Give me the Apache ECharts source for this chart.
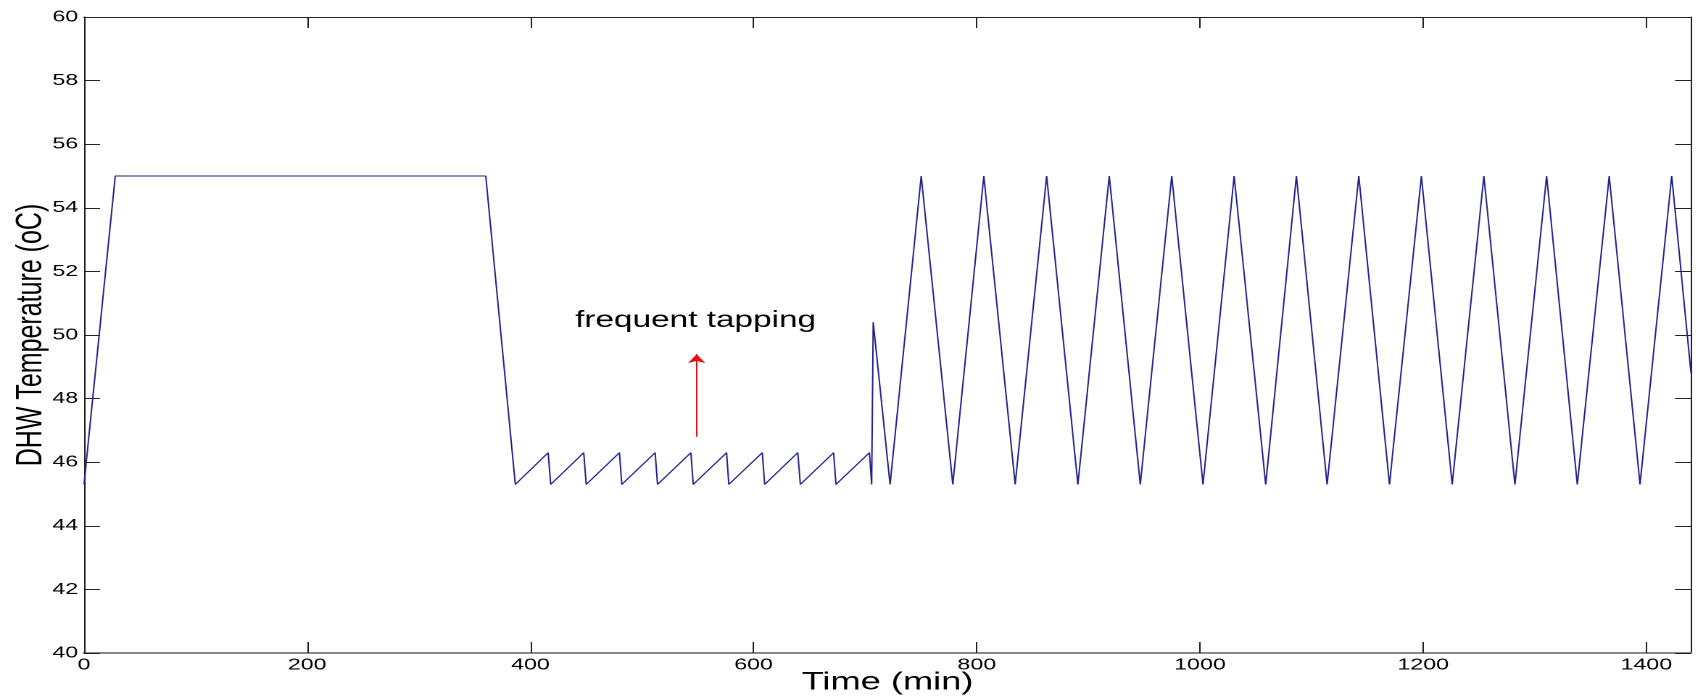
<!DOCTYPE html>
<html>
<head>
<meta charset="utf-8">
<script src="https://cdn.jsdelivr.net/npm/echarts@6/dist/echarts.min.js"></script>
<style>
  html, body { margin: 0; padding: 0; background: #fff; overflow: hidden; }
  #wrap { width: 1696px; height: 697px; overflow: hidden; position: relative; }
  #chart { height: 697px; transform-origin: 0 0; }
</style>
</head>
<body>
<div id="wrap"><div id="chart"></div></div>
<script>
// ---- data ----
const timeMin = [
  0, 28, 360, 386.5,
  415.9, 418.2, 447.8, 450.0, 479.8, 481.9, 511.8, 513.9, 543.8, 545.9,
  575.8, 577.8, 607.8, 609.9, 639.6, 641.9, 671.7, 673.8, 703.8, 705.8,
  707.2, 722.3,
  750.2, 751.8, 778.5, 806.3, 807.9, 834.4, 862.6, 864.2, 890.6,
  918.7, 920.3, 946.5, 974.7, 976.3, 1002.7, 1030.6, 1032.2, 1058.9,
  1086.4, 1088.0, 1113.9, 1142.3, 1143.9, 1169.8, 1198.4, 1200.0, 1226.0,
  1254.4, 1256.0, 1282.2, 1310.6, 1312.2, 1338.1, 1366.7, 1368.3, 1394.3,
  1422.7, 1424.3, 1440
];
const tempC = [
  45.3, 55, 55, 45.3,
  46.3, 45.3, 46.3, 45.3, 46.3, 45.3, 46.3, 45.3, 46.3, 45.3,
  46.3, 45.3, 46.3, 45.3, 46.3, 45.3, 46.3, 45.3, 46.3, 45.3,
  50.4, 45.3,
  55, 55, 45.3, 55, 55, 45.3, 55, 55, 45.3,
  55, 55, 45.3, 55, 55, 45.3, 55, 55, 45.3,
  55, 55, 45.3, 55, 55, 45.3, 55, 55, 45.3,
  55, 55, 45.3, 55, 55, 45.3, 55, 55, 45.3,
  55, 55, 48.8
];
const xTicks = { min: 0, max: 1440, interval: 200 };
const yTicks = { min: 40, max: 60, interval: 2 };
const xTitle = 'Time (min)';
const yTitle = 'DHW Temperature (oC)';
const noteText = 'frequent tapping';
const noteAt = [548, 50.45];
const arrowFrom = [549, 46.8];
const arrowTo = [549, 49.4];

// ---- layout: reference image is horizontally stretched ----
const S = 1.45;
const W0 = 1696 / S;
const chartDiv = document.getElementById('chart');
chartDiv.style.width = W0 + 'px';
chartDiv.style.transform = 'scaleX(' + S + ')';

const chart = echarts.init(chartDiv, null, { renderer: 'canvas', devicePixelRatio: 2 });
const FONT = 'Liberation Sans, Arial, sans-serif';
const axisColor = '#222';

const seriesData = timeMin.map((t, i) => [t, tempC[i]]);

const xCommon = {
  type: 'value', min: xTicks.min, max: xTicks.max, interval: xTicks.interval,
  splitLine: { show: false },
  axisTick: { inside: true, length: 11, lineStyle: { color: axisColor, width: 1 } }
};
const yCommon = {
  type: 'value', min: yTicks.min, max: yTicks.max, interval: yTicks.interval,
  splitLine: { show: false },
  axisTick: { inside: true, length: 11, lineStyle: { color: axisColor, width: 1 } }
};

chart.setOption({
  animation: false,
  backgroundColor: '#fff',
  grid: {
    left: 84 / S, top: 17, width: (1691 - 84) / S, height: 653 - 17,
    containLabel: false, outerBoundsMode: 'none'
  },
  xAxis: [
    Object.assign({}, xCommon, {
      position: 'bottom',
      axisLine: { onZero: false, lineStyle: { color: '#888', width: 2 } },
      axisLabel: {
        margin: 4, fontFamily: FONT, fontSize: 16, color: '#000', showMaxLabel: false,
        formatter: v => String(v)
      },
      name: xTitle, nameLocation: 'middle', nameGap: 17, nameMoveOverlap: false,
      nameTextStyle: { fontFamily: FONT, fontSize: 25, color: '#000' }
    }),
    Object.assign({}, xCommon, {
      position: 'top',
      axisLine: { onZero: false, lineStyle: { color: axisColor, width: 1 } },
      axisLabel: { show: false }
    })
  ],
  yAxis: [
    Object.assign({}, yCommon, {
      position: 'left',
      axisLine: { onZero: false, lineStyle: { color: axisColor, width: 1 } },
      axisLabel: { margin: 4, fontFamily: FONT, fontSize: 16, color: '#000', formatter: v => String(v) },
      name: yTitle, nameLocation: 'middle', nameGap: 24, nameMoveOverlap: false,
      nameTextStyle: { fontFamily: FONT, fontSize: 25, color: '#000' }
    }),
    Object.assign({}, yCommon, {
      position: 'right',
      axisLine: { onZero: false, lineStyle: { color: axisColor, width: 1 } },
      axisLabel: { show: false }
    })
  ],
  series: [{
    type: 'line',
    xAxisIndex: 0, yAxisIndex: 0,
    data: seriesData,
    showSymbol: false,
    symbol: 'none',
    lineStyle: { color: '#22228e', width: 1 },
    emphasis: { disabled: true },
    silent: true,
    markLine: {
      silent: true,
      symbol: ['none', 'arrow'],
      symbolSize: 9,
      label: { show: false },
      lineStyle: { color: '#e01010', type: 'solid', width: 1 },
      itemStyle: { color: '#e01010' },
      data: [[{ coord: arrowFrom }, { coord: arrowTo }]]
    },
    markPoint: {
      silent: true,
      symbol: 'circle',
      symbolSize: 0,
      itemStyle: { color: 'transparent' },
      label: {
        show: true, position: 'inside', formatter: noteText,
        fontFamily: FONT, fontSize: 23, color: '#000'
      },
      data: [{ coord: noteAt }]
    }
  }]
});
</script>
</body>
</html>
